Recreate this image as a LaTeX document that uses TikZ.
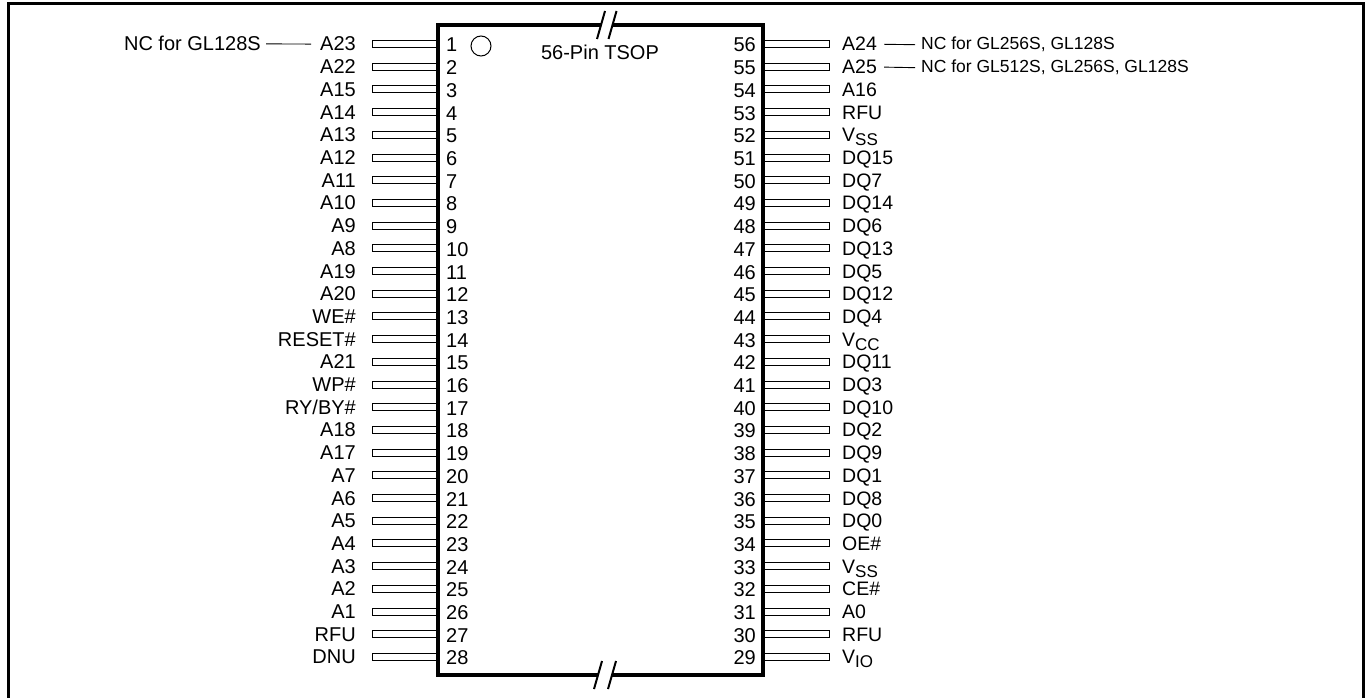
\documentclass[tikz,border=0pt]{standalone}
\usepackage{fontspec}
\setmainfont{Liberation Sans}
\newcommand{\sbs}[1]{\raisebox{-4pt}{\fontsize{17}{17}\selectfont #1}}
\begin{document}
\begin{tikzpicture}[x=1pt,y=-1pt,
  lbl/.style={font=\fontsize{20}{20}\selectfont, inner sep=0pt},
  rlbl/.style={font=\fontsize{19.5}{19.5}\selectfont, inner sep=0pt},
  note/.style={font=\fontsize{17.5}{17.5}\selectfont, inner sep=0pt},
  pinbox/.style={draw, line width=0.9pt, minimum width=66pt, minimum height=7pt, inner sep=0pt, outer sep=0pt},
  frame/.style={line width=3pt},
  body/.style={line width=4pt, line join=miter},
  brk/.style={line width=2pt},
  ncline/.style={line width=0.9pt}]
\useasboundingbox (0,0) rectangle (1369,698);
\draw[frame] (8,720) -- (8,4) -- (1363,4) -- (1363,720);
% left pins
\foreach \lab [count=\i] in {A23,A22,A15,A14,A13,A12,A11,A10,A9,A8,A19,A20,WE\#,RESET\#,A21,WP\#,RY/BY\#,A18,A17,A7,A6,A5,A4,A3,A2,A1,RFU,DNU}{
  \pgfmathsetmacro\yy{44+(\i-1)*22.7}
  \node[pinbox] (PL\i) at (405,\yy) {};
  \node[lbl, anchor=base east] (LL\i) at (356,\yy+7) {\lab};
  \node[lbl, anchor=base west] (NL\i) at (446,\yy+8) {\i};
}
% right pins
\foreach \lab [count=\k] in {A24,A25,A16,RFU,V\sbs{SS},DQ15,DQ7,DQ14,DQ6,DQ13,DQ5,DQ12,DQ4,V\sbs{CC},DQ11,DQ3,DQ10,DQ2,DQ9,DQ1,DQ8,DQ0,OE\#,V\sbs{SS},CE\#,A0,RFU,V\sbs{IO}}{
  \pgfmathsetmacro\yy{44+(\k-1)*22.7}
  \pgfmathtruncatemacro\n{57-\k}
  \node[pinbox] (PR\n) at (796,\yy) {};
  \node[rlbl, anchor=base west] (RL\n) at (842,\yy+7) {\lab};
  \node[lbl, anchor=base east] (NR\n) at (756,\yy+8) {\n};
}
% chip body with break marks
\coordinate (ctl) at (438,25);
\coordinate (cbl) at (438,675);
\coordinate (cbr) at (763,675);
\coordinate (ctr) at (763,25);
\draw[body] (601,25) -- (ctl) -- (cbl) -- (598,675);
\draw[body] (612,675) -- (cbr) -- (ctr) -- (612.5,25);
\draw[brk] (605,11) -- (597,39);
\draw[brk] (616.5,11) -- (608.5,39);
\draw[brk] (602,661) -- (594,689);
\draw[brk] (616,661) -- (608,689);
% index dot and title
\node[draw, circle, minimum size=20pt, inner sep=0pt, line width=1pt] (dot) at (481,46) {};
\node[lbl, anchor=base] (title) at (600,60) {56-Pin TSOP};
% NC notes
\node[lbl, anchor=base east] (ncA) at (261,51) {NC for GL128S};
\draw[ncline, shorten <=5pt, shorten >=9pt] (ncA.east) -- (LL1.west);
\node[note, anchor=base west] (ncB) at (921,50) {NC for GL256S, GL128S};
\node[note, anchor=base west] (ncC) at (921,73) {NC for GL512S, GL256S, GL128S};
\draw[ncline, shorten <=7pt, shorten >=6pt] (RL56.east) -- (ncB.west);
\draw[ncline, shorten <=7pt, shorten >=6pt] (RL55.east) -- (ncC.west);
\end{tikzpicture}
\end{document}
